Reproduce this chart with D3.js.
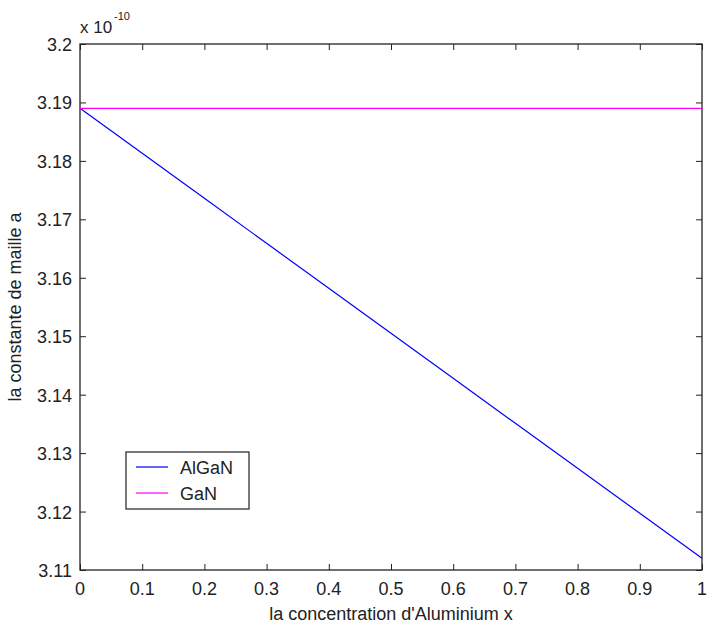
<!DOCTYPE html>
<html>
<head>
<meta charset="utf-8">
<script src="https://cdn.jsdelivr.net/npm/d3@7"></script>
<style>
body { margin: 0; background: #fff; }
text { font-family: "Liberation Sans", Arial, sans-serif; fill: #222; }
</style>
</head>
<body>
<div class="holder"></div>
<script>
// concentration x and lattice constant a (in units of 1e-10 m)
var concentration = [0, 0.1, 0.2, 0.3, 0.4, 0.5, 0.6, 0.7, 0.8, 0.9, 1]
var algan = [3.189, 3.1813, 3.1736, 3.1659, 3.1582, 3.1505, 3.1428, 3.1351, 3.1274, 3.1197, 3.112]
var gan = [3.189, 3.189, 3.189, 3.189, 3.189, 3.189, 3.189, 3.189, 3.189, 3.189, 3.189]
var xTicks = [0, 0.1, 0.2, 0.3, 0.4, 0.5, 0.6, 0.7, 0.8, 0.9, 1]
var yTicks = [3.11, 3.12, 3.13, 3.14, 3.15, 3.16, 3.17, 3.18, 3.19, 3.2]
var seriesNames = ['AlGaN', 'GaN']
var seriesColors = ['#0000ff', '#ff00ff']

var width = 708, height = 625
var pLeft = 80, pRight = 702, pTop = 44, pBottom = 570

var svg = d3.select('.holder').append('svg')
  .attr('width', width)
  .attr('height', height)

var x = d3.scaleLinear().domain([0, 1]).range([pLeft, pRight])
var y = d3.scaleLinear().domain([3.11, 3.2]).range([pBottom, pTop])

var fmt = function(d) { return String(+d.toFixed(2)) }

// ticks point inward on all four sides, like matlab's box
svg.append('g')
  .attr('transform', 'translate(0,' + pBottom + ')')
  .call(d3.axisTop(x).tickValues(xTicks).tickSize(6).tickFormat(''))
svg.append('g')
  .attr('transform', 'translate(0,' + pTop + ')')
  .call(d3.axisBottom(x).tickValues(xTicks).tickSize(6).tickFormat(''))
svg.append('g')
  .attr('transform', 'translate(' + pLeft + ',0)')
  .call(d3.axisRight(y).tickValues(yTicks).tickSize(6).tickFormat(''))
svg.append('g')
  .attr('transform', 'translate(' + pRight + ',0)')
  .call(d3.axisLeft(y).tickValues(yTicks).tickSize(6).tickFormat(''))

svg.selectAll('.domain').remove()
svg.selectAll('.tick line').attr('stroke', '#222')

svg.append('rect')
  .attr('x', pLeft).attr('y', pTop)
  .attr('width', pRight - pLeft).attr('height', pBottom - pTop)
  .attr('fill', 'none').attr('stroke', '#222').attr('stroke-width', 1.3)

// tick labels
svg.selectAll('.xlab').data(xTicks).enter().append('text')
  .attr('class', 'xlab')
  .attr('x', function(d) { return x(d) })
  .attr('y', pBottom + 25)
  .attr('text-anchor', 'middle')
  .style('font-size', '18px')
  .text(fmt)

svg.selectAll('.ylab').data(yTicks).enter().append('text')
  .attr('class', 'ylab')
  .attr('x', pLeft - 8)
  .attr('y', function(d) { return y(d) + 7 })
  .attr('text-anchor', 'end')
  .style('font-size', '18px')
  .text(fmt)

// exponent
svg.append('text').attr('x', 80).attr('y', 33).style('font-size', '17px').text('x 10')
svg.append('text').attr('x', 114).attr('y', 20).style('font-size', '11px').text('-10')

svg.append('text')
  .attr('x', (pLeft + pRight) / 2)
  .attr('y', 620)
  .attr('text-anchor', 'middle')
  .style('font-size', '18px')
  .text("la concentration d'Aluminium x")

svg.append('text')
  .attr('transform', 'translate(21,' + ((pTop + pBottom) / 2) + ') rotate(-90)')
  .attr('text-anchor', 'middle')
  .style('font-size', '18px')
  .text('la constante de maille a')

var line = d3.line()
  .x(function(d) { return x(d[0]) })
  .y(function(d) { return y(d[1]) })

var series = [algan, gan]
series.forEach(function(vals, i) {
  svg.append('path')
    .datum(concentration.map(function(c, j) { return [c, vals[j]] }))
    .attr('d', line)
    .attr('fill', 'none')
    .attr('stroke', seriesColors[i])
    .attr('stroke-width', 1.2)
})

// legend
var legend = svg.append('g')
legend.append('rect')
  .attr('x', 126).attr('y', 452).attr('width', 123).attr('height', 57)
  .attr('fill', '#fff').attr('stroke', '#333').attr('stroke-width', 1.3)
seriesNames.forEach(function(name, i) {
  var ly = 467 + i * 26
  legend.append('line')
    .attr('x1', 136).attr('x2', 168).attr('y1', ly).attr('y2', ly)
    .attr('stroke', seriesColors[i]).attr('stroke-width', 1.2)
  legend.append('text')
    .attr('x', 180).attr('y', ly + 7)
    .style('font-size', '18px')
    .text(name)
})
</script>
</body>
</html>
